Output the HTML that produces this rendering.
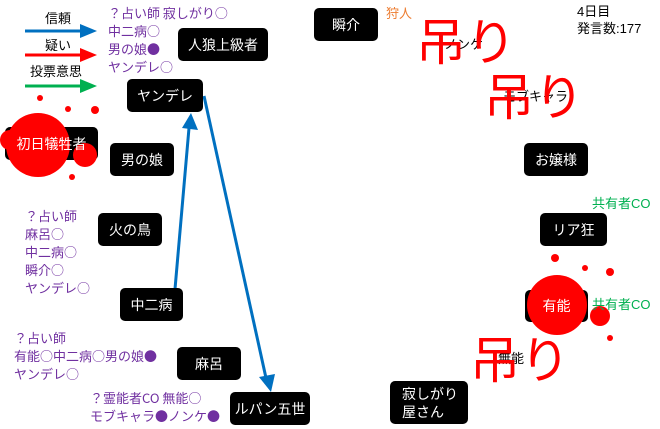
<!DOCTYPE html>
<html><head><meta charset="utf-8"><style>
body{margin:0;width:660px;height:429px;background:#fff;position:relative;overflow:hidden;font-family:"Liberation Sans","Noto Sans CJK JP",sans-serif;}
.n{position:absolute;background:#000;color:#fff;border-radius:5px;font-size:14px;display:flex;align-items:center;justify-content:center;}
.t{position:absolute;font-size:13px;line-height:18px;white-space:nowrap;}
.p{color:#7030a0;font-family:"Noto Sans CJK JP",sans-serif;font-size:13px;line-height:18px}
.g{color:#00b050}
.r{position:absolute;color:#f00;font-size:50px;line-height:50px;white-space:nowrap;}
</style></head><body>
<svg width="660" height="429" style="position:absolute;left:0;top:0">
<line x1="25" y1="31" x2="82" y2="31" stroke="#0070c0" stroke-width="3"/><path d="M80,24L97,31L80,38z" fill="#0070c0"/>
<line x1="25" y1="55" x2="82" y2="55" stroke="#f00" stroke-width="3"/><path d="M80,48L97,55L80,62z" fill="#f00"/>
<line x1="25" y1="86" x2="82" y2="86" stroke="#00b050" stroke-width="3"/><path d="M80,79L97,86L80,93z" fill="#00b050"/>
<line x1="175" y1="289" x2="189" y2="128" stroke="#0070c0" stroke-width="3"/><path d="M182,128L191,113L198,130z" fill="#0070c0"/>
<line x1="204" y1="96" x2="266" y2="378" stroke="#0070c0" stroke-width="3"/><path d="M259,377L271,392L275,374z" fill="#0070c0"/>
</svg>
<div class="t" style="left:45px;top:10px">信頼</div>
<div class="t" style="left:45px;top:37px">疑い</div>
<div class="t" style="left:30px;top:63px">投票意思</div>
<div class="t p" style="left:108px;top:4px">？占い師 寂しがり○<br>中二病○<br>男の娘●<br>ヤンデレ○</div>
<div class="n" style="left:178px;top:28px;width:90px;height:33px">人狼上級者</div>
<div class="n" style="left:314px;top:8px;width:64px;height:33px">瞬介</div>
<div class="t" style="left:386px;top:5px;color:#ed7d31">狩人</div>
<div class="t" style="left:577px;top:3px;line-height:17px">4日目<br>発言数:177</div>
<div class="n" style="left:127px;top:79px;width:76px;height:33px">ヤンデレ</div>
<div class="n" style="left:5px;top:127px;width:93px;height:33px"></div>
<svg width="120" height="100" style="position:absolute;left:0;top:95px">
<circle cx="38" cy="50" r="32" fill="#f00"/><circle cx="85" cy="60" r="12" fill="#f00"/><circle cx="10" cy="45" r="10" fill="#f00"/>
<circle cx="40" cy="3" r="3" fill="#f00"/><circle cx="68" cy="14" r="3" fill="#f00"/><circle cx="95" cy="15" r="4" fill="#f00"/><circle cx="72" cy="82" r="3" fill="#f00"/>
</svg>
<div class="n" style="left:5px;top:127px;width:93px;height:33px;background:transparent">初日犠牲者</div>
<div class="n" style="left:110px;top:143px;width:64px;height:33px">男の娘</div>
<div class="n" style="left:524px;top:143px;width:64px;height:33px">お嬢様</div>
<div class="t g" style="left:592px;top:195px">共有者CO</div>
<div class="t p" style="left:25px;top:207px">？占い師<br>麻呂○<br>中二病○<br>瞬介○<br>ヤンデレ○</div>
<div class="n" style="left:98px;top:213px;width:64px;height:33px">火の鳥</div>
<div class="n" style="left:540px;top:213px;width:67px;height:33px">リア狂</div>
<div class="n" style="left:120px;top:288px;width:63px;height:33px">中二病</div>
<div class="n" style="left:525px;top:290px;width:63px;height:32px"></div>
<svg width="110" height="110" style="position:absolute;left:515px;top:250px">
<circle cx="42" cy="55" r="30" fill="#f00"/><circle cx="85" cy="66" r="10" fill="#f00"/>
<circle cx="40" cy="8" r="4" fill="#f00"/><circle cx="70" cy="18" r="3" fill="#f00"/><circle cx="95" cy="22" r="4" fill="#f00"/><circle cx="95" cy="88" r="3" fill="#f00"/>
</svg>
<div class="n" style="left:525px;top:290px;width:63px;height:32px;background:transparent">有能</div>
<div class="t g" style="left:592px;top:296px">共有者CO</div>
<div class="t p" style="left:14px;top:329px">？占い師<br>有能○中二病○男の娘●<br>ヤンデレ○</div>
<div class="n" style="left:177px;top:347px;width:64px;height:33px">麻呂</div>
<div class="t p" style="left:90px;top:389px">？霊能者CO 無能○<br>モブキャラ●ノンケ●</div>
<div class="n" style="left:230px;top:392px;width:80px;height:33px">ルパン五世</div>
<div class="n" style="left:390px;top:381px;width:78px;height:43px;line-height:18px;justify-content:flex-start;padding-left:12px;box-sizing:border-box">寂しがり<br>屋さん</div>
<div class="t" style="left:444px;top:36px">ノンケ</div>
<div class="t" style="left:503px;top:88px">モブキャラ</div>
<div class="t" style="left:498px;top:350px">無能</div>
<div class="r" style="left:416px;top:18px">吊り</div>
<div class="r" style="left:484px;top:73px">吊り</div>
<div class="r" style="left:470px;top:336px">吊り</div>
</body></html>
